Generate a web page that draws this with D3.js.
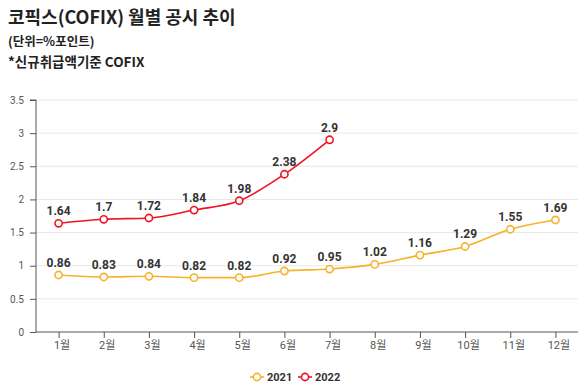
<!DOCTYPE html>
<html>
<head>
<meta charset="utf-8">
<script src="https://cdn.jsdelivr.net/npm/d3@7"></script>
<style>
  body { margin: 0; background: #fff; }
  svg { display: block; font-family: Roboto, "Noto Sans CJK KR", sans-serif; }
</style>
</head>
<body>
<svg id="chart" width="580" height="385"></svg>
<script>
const months = ['1월','2월','3월','4월','5월','6월','7월','8월','9월','10월','11월','12월'];
const values2021 = [0.86, 0.83, 0.84, 0.82, 0.82, 0.92, 0.95, 1.02, 1.16, 1.29, 1.55, 1.69];
const values2022 = [1.64, 1.7, 1.72, 1.84, 1.98, 2.38, 2.9];
const yTicks = [0, 0.5, 1, 1.5, 2, 2.5, 3, 3.5];
const seriesNames = ['2021', '2022'];
const colors = ['#f7b22a', '#ee1522'];

const svg = d3.select('#chart');
const margin = {top: 100, right: 2, bottom: 53, left: 36};
const W = 580, H = 385;
const width = W - margin.left - margin.right, height = H - margin.top - margin.bottom;

// titles
svg.append('text').attr('x', 8).attr('y', 24).attr('font-family', '"Noto Sans CJK KR", "Noto Sans", sans-serif')
  .attr('font-weight', 'bold').attr('font-size', 18).attr('fill', '#222').text('코픽스(COFIX) 월별 공시 추이');
svg.append('text').attr('x', 8).attr('y', 46).attr('font-family', '"Noto Sans CJK KR", "Noto Sans", sans-serif')
  .attr('font-weight', 'bold').attr('font-size', 12.5).attr('fill', '#222').text('(단위=%포인트)');
svg.append('text').attr('x', 8).attr('y', 67).attr('font-family', '"Noto Sans CJK KR", "Noto Sans", sans-serif')
  .attr('font-weight', 'bold').attr('font-size', 13.5).attr('fill', '#222').text('*신규취급액기준 COFIX');

const g = svg.append('g').attr('transform', `translate(${margin.left},${margin.top})`);
const x = d3.scalePoint().domain(months).range([0, width]).padding(0.5);
const y = d3.scaleLinear().domain([0, 3.5]).range([height, 0]);

// grid
g.append('g').selectAll('line').data(yTicks.slice(1)).enter().append('line')
  .attr('x1', 0).attr('x2', width).attr('y1', d => y(d)).attr('y2', d => y(d))
  .attr('stroke', '#e8e8e8').attr('stroke-width', 1);

// axes
const yAxis = g.append('g').call(d3.axisLeft(y).tickValues(yTicks).tickSize(6).tickPadding(6).tickFormat(d3.format('')));
yAxis.select('.domain').attr('stroke', '#555').attr('d', `M-6,${y(3.5)}H0V${height}`);
yAxis.selectAll('.tick line').attr('stroke', '#555');
yAxis.selectAll('text').attr('fill', '#555').attr('font-size', 10).attr('font-family', 'Roboto, sans-serif');

const xAxis = g.append('g').attr('transform', `translate(0,${height})`).call(d3.axisBottom(x).tickSize(6).tickPadding(3));
xAxis.select('.domain').attr('stroke', '#555').attr('d', `M0,0H${width}`);
xAxis.selectAll('.tick line').attr('stroke', '#555');
xAxis.selectAll('text').attr('fill', '#555').attr('font-size', 11).attr('font-family', 'Roboto, "Noto Sans CJK KR", sans-serif')
  .attr('dx', 3);

const line = d3.line().x((d, i) => x(months[i])).y(d => y(d)).curve(d3.curveMonotoneX);
[values2021, values2022].forEach((vals, si) => {
  const sg = g.append('g');
  sg.append('path').datum(vals).attr('fill', 'none').attr('stroke', colors[si]).attr('stroke-width', 1.6).attr('d', line);
  sg.selectAll('circle').data(vals).enter().append('circle')
    .attr('cx', (d, i) => x(months[i])).attr('cy', d => y(d)).attr('r', 3.6)
    .attr('fill', '#fff').attr('stroke', colors[si]).attr('stroke-width', 1.6);
  sg.selectAll('text').data(vals).enter().append('text')
    .attr('x', (d, i) => x(months[i])).attr('y', d => y(d) - 8)
    .attr('text-anchor', 'middle').attr('font-size', 12).attr('font-weight', 'bold')
    .attr('fill', '#333').attr('font-family', 'Roboto, sans-serif').text(d => d);
});

// legend
const legend = svg.append('g').attr('transform', 'translate(250,377)');
const legendX = [0, 48];
seriesNames.forEach((name, i) => {
  const lg = legend.append('g').attr('transform', `translate(${legendX[i]},0)`);
  lg.append('line').attr('x1', 0).attr('x2', 14).attr('y1', 0).attr('y2', 0).attr('stroke', colors[i]).attr('stroke-width', 1.6);
  lg.append('circle').attr('cx', 7).attr('cy', 0).attr('r', 3.6).attr('fill', '#fff').attr('stroke', colors[i]).attr('stroke-width', 1.6);
  lg.append('text').attr('x', 17).attr('y', 4).attr('font-size', 11).attr('font-weight', 'bold')
    .attr('fill', '#333').attr('font-family', 'Roboto, sans-serif').text(name);
});
</script>
</body>
</html>
